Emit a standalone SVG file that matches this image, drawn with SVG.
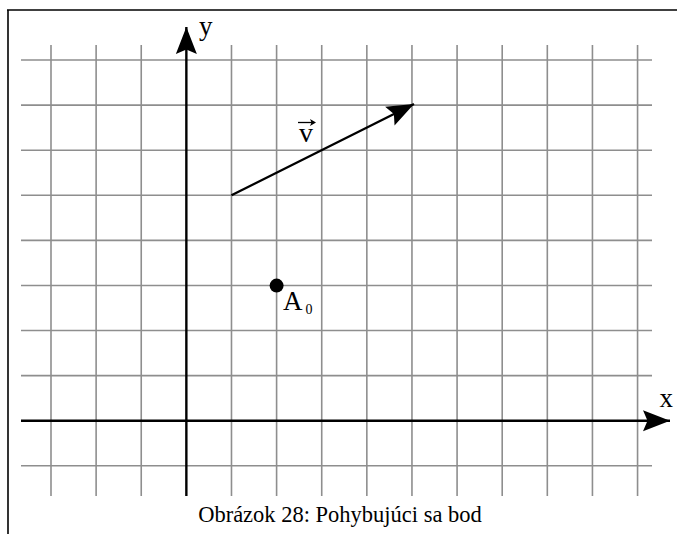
<svg xmlns="http://www.w3.org/2000/svg" width="677" height="534" viewBox="0 0 677 534">
<style>
.grid line{stroke:#8e8e8e;stroke-width:1.6;}
.axis{stroke:#000;stroke-width:2.4;fill:none;}
.frame{stroke:#000;stroke-width:1.6;fill:none;}
text, tspan{font-family:"Liberation Serif","Times New Roman",serif;fill:#000;}
</style>
<defs>
<marker id="ah" markerUnits="userSpaceOnUse" markerWidth="30" markerHeight="24" viewBox="-28 -12 30 24" refX="0" refY="0" orient="auto" overflow="visible">
<path d="M0,0 L-27,-10.5 L-22.5,0 L-27,10.5 Z" fill="#000"/>
</marker>
</defs>
<rect width="677" height="534" fill="#fff"/>
<g id="frame">
<line class="frame" x1="7" y1="10" x2="677" y2="10"/>
<line class="frame" x1="8" y1="10" x2="8" y2="534"/>
</g>
<g id="grid" class="grid">
<line x1="51" y1="45" x2="51" y2="496"/>
<line x1="96.12" y1="45" x2="96.12" y2="496"/>
<line x1="141.24" y1="45" x2="141.24" y2="496"/>
<line x1="231.48" y1="45" x2="231.48" y2="496"/>
<line x1="276.6" y1="45" x2="276.6" y2="496"/>
<line x1="321.72" y1="45" x2="321.72" y2="496"/>
<line x1="366.84" y1="45" x2="366.84" y2="496"/>
<line x1="411.96" y1="45" x2="411.96" y2="496"/>
<line x1="457.08" y1="45" x2="457.08" y2="496"/>
<line x1="502.2" y1="45" x2="502.2" y2="496"/>
<line x1="547.32" y1="45" x2="547.32" y2="496"/>
<line x1="592.44" y1="45" x2="592.44" y2="496"/>
<line x1="637.56" y1="45" x2="637.56" y2="496"/>
<line x1="21" y1="60" x2="652" y2="60"/>
<line x1="21" y1="105.09" x2="652" y2="105.09"/>
<line x1="21" y1="150.18" x2="652" y2="150.18"/>
<line x1="21" y1="195.27" x2="652" y2="195.27"/>
<line x1="21" y1="240.36" x2="652" y2="240.36"/>
<line x1="21" y1="285.45" x2="652" y2="285.45"/>
<line x1="21" y1="330.54" x2="652" y2="330.54"/>
<line x1="21" y1="375.63" x2="652" y2="375.63"/>
<line x1="21" y1="465.81" x2="652" y2="465.81"/>
</g>
<g id="connectors">
<line id="x-axis" class="axis" x1="21" y1="420.72" x2="670" y2="420.72" marker-end="url(#ah)"/>
<line id="y-axis" class="axis" x1="186.36" y1="496" x2="186.36" y2="27" marker-end="url(#ah)"/>
<line id="vector-v" class="axis" stroke-width="2.2" x1="231.48" y1="195.27" x2="414" y2="104" marker-end="url(#ah)"/>
</g>
<g id="label-x"><text x="659.5" y="407" font-size="27" font-family="Liberation Serif, serif">x</text></g>
<g id="label-y"><text x="199" y="35" font-size="27" font-family="Liberation Serif, serif">y</text></g>
<g id="label-v">
<text x="299" y="142" font-size="28" font-family="Liberation Serif, serif">v</text>
<line x1="298" y1="122.5" x2="312" y2="122.5" stroke="#000" stroke-width="1.3"/>
<path d="M316,122.5 L310,119 L311.5,122.5 L310,126 Z" fill="#000"/>
</g>
<g id="point-A0">
<circle cx="276.6" cy="285.6" r="7" fill="#000"/>
<text x="283" y="310" font-size="27" font-family="Liberation Serif, serif">A</text>
<text x="305.5" y="314" font-size="14" font-family="Liberation Serif, serif">0</text>
</g>
<g id="caption"><text x="340" y="521.5" font-size="22.5" text-anchor="middle" font-family="Liberation Serif, serif">Obrázok 28: Pohybujúci sa bod</text></g>
</svg>
